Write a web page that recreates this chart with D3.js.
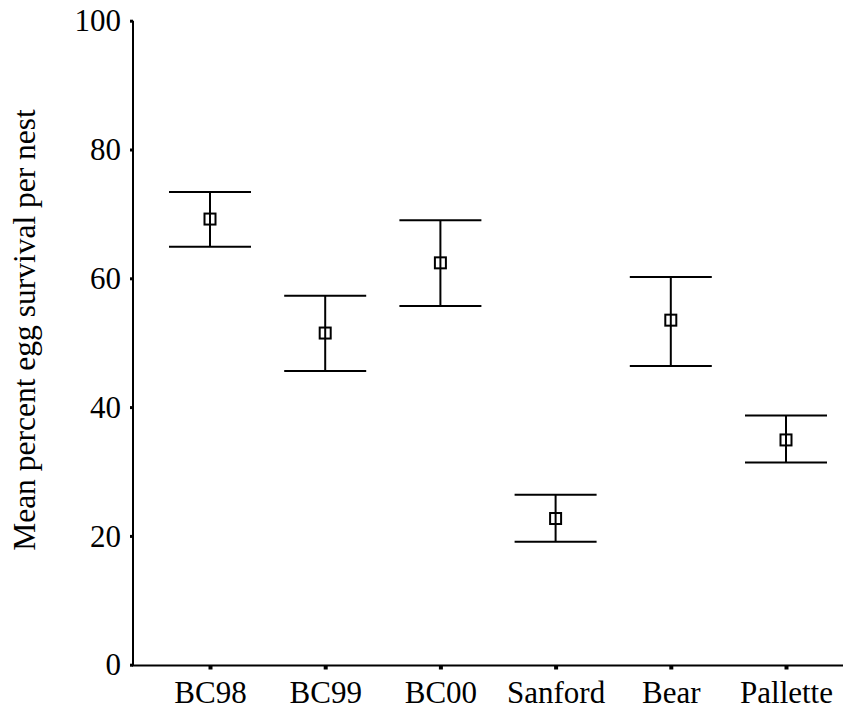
<!DOCTYPE html>
<html>
<head>
<meta charset="utf-8">
<script src="https://cdn.jsdelivr.net/npm/d3@7"></script>
<style>
  body { margin: 0; background: #fff; }
  text { font-family: "Liberation Serif", "Times New Roman", serif; fill: #000; }
</style>
</head>
<body>
<script>
var width = 853, height = 711;

// data
var sites = ["BC98", "BC99", "BC00", "Sanford", "Bear", "Pallette"];
var means = [69.2, 51.5, 62.4, 22.7, 53.5, 34.9];
var upper = [73.4, 57.3, 69.0, 26.4, 60.2, 38.7];
var lower = [64.9, 45.6, 55.7, 19.1, 46.4, 31.4];
var yTicks = [0, 20, 40, 60, 80, 100];

var rows = sites.map((s, i) => ({site: s, mean: means[i], hi: upper[i], lo: lower[i]}));

var svg = d3.select("body")
  .append("svg")
  .attr("width", width)
  .attr("height", height);

var x = d3.scalePoint().domain(sites).range([210, 786]);
var y = d3.scaleLinear().domain([0, 100]).range([664.7, 20.7]);

// y axis
var yAxis = svg.append("g")
  .attr("transform", "translate(133,0)")
  .call(d3.axisLeft(y).tickValues(yTicks).tickSize(3).tickPadding(9));
yAxis.select(".domain").attr("stroke-width", 2).attr("d", "M0," + y(100) + "V" + (y(0) + 1));
yAxis.selectAll(".tick line").attr("stroke-width", 3);
yAxis.selectAll(".tick text").attr("font-size", 31).attr("dy", "0.33em");

// x axis
var xAxis = svg.append("g")
  .attr("transform", "translate(0,665.5)")
  .call(d3.axisBottom(x).tickSize(4).tickPadding(12));
xAxis.select(".domain").attr("stroke-width", 2).attr("d", "M132,0H843");
xAxis.selectAll(".tick line").attr("stroke-width", 4);
xAxis.selectAll(".tick text").attr("font-size", 31).attr("dy", "0.68em");

// error bars
var g = svg.append("g").attr("stroke", "#000").attr("stroke-width", 2).attr("fill", "none");
var capW = 41;

g.selectAll(".stem")
  .data(rows)
  .enter()
  .append("line")
  .attr("x1", d => x(d.site))
  .attr("x2", d => x(d.site))
  .attr("y1", d => y(d.hi))
  .attr("y2", d => y(d.lo));

g.selectAll(".capHi")
  .data(rows)
  .enter()
  .append("line")
  .attr("x1", d => x(d.site) - capW)
  .attr("x2", d => x(d.site) + capW)
  .attr("y1", d => y(d.hi))
  .attr("y2", d => y(d.hi));

g.selectAll(".capLo")
  .data(rows)
  .enter()
  .append("line")
  .attr("x1", d => x(d.site) - capW)
  .attr("x2", d => x(d.site) + capW)
  .attr("y1", d => y(d.lo))
  .attr("y2", d => y(d.lo));

g.selectAll(".mark")
  .data(rows)
  .enter()
  .append("rect")
  .attr("x", d => x(d.site) - 5.5)
  .attr("y", d => y(d.mean) - 5.5)
  .attr("width", 11)
  .attr("height", 11);

// y title
svg.append("text")
  .attr("transform", "translate(35,330) rotate(-90)")
  .attr("text-anchor", "middle")
  .attr("font-size", 31.5)
  .text("Mean percent egg survival per nest");
</script>
</body>
</html>
